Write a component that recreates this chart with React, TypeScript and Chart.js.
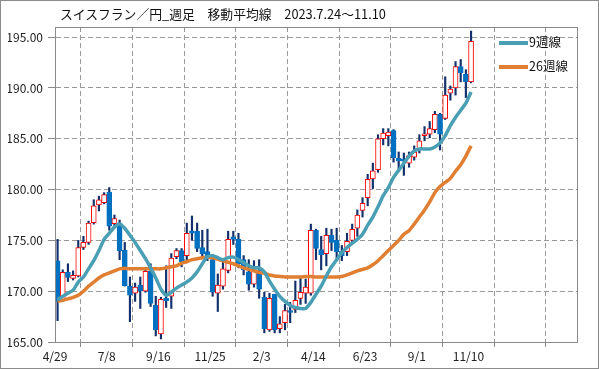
import React, { useEffect, useRef } from 'react';
import { Chart, registerables } from 'chart.js';
Chart.register(...registerables);

const TITLE = 'スイスフラン／円_週足　移動平均線　2023.7.24〜11.10';
const LEGEND_9 = '9週線';
const LEGEND_26 = '26週線';

const xTickLabels = ['4/29', '7/8', '9/16', '11/25', '2/3', '4/14', '6/23', '9/1', '11/10', '', ''];
const xTickValues = [0, 10, 20, 30, 40, 50, 60, 70, 80, 90, 100];
const yTickValues = [165, 170, 175, 180, 185, 190, 195];

const opens = [173.0,169.15,171.85,171.25,171.5,174.3,174.8,176.75,178.5,178.7,
179.75,176.65,176.7,174.05,170.5,169.8,170.6,170.0,171.95,168.6,
165.8,169.3,169.5,173.4,174.0,173.5,175.95,175.9,174.3,173.9,
173.1,169.8,170.5,172.05,175.35,175.1,173.1,171.9,170.7,172.1,
169.4,166.2,169.7,166.3,166.9,168.1,168.2,169.3,169.8,169.8,
176.0,174.1,173.7,175.5,175.0,173.9,173.9,175.0,176.2,177.95,
179.2,181.05,181.95,185.0,185.3,185.8,183.1,182.9,182.6,183.2,
184.0,185.3,185.45,185.9,187.4,187.0,189.5,190.0,192.1,191.35,
190.6];

const highs = [175.1,172.1,172.7,172.0,175.0,175.4,176.9,179.0,179.35,179.7,
180.2,177.5,177.0,174.8,171.4,170.8,171.4,172.1,172.7,169.5,
169.4,172.5,173.7,174.2,174.2,176.7,177.4,176.7,176.0,176.1,
173.6,171.7,172.9,175.9,175.9,175.7,173.5,173.1,173.0,173.1,
169.9,169.8,169.7,167.5,168.7,168.9,171.0,171.3,171.2,176.6,
176.1,175.4,176.2,176.1,176.2,174.5,175.7,176.6,178.0,179.2,
181.5,182.6,185.4,186.0,186.0,185.9,183.7,183.6,183.7,184.3,
185.4,186.2,186.7,187.7,187.5,191.1,190.2,192.6,192.8,191.8,
195.6];

const lows = [167.1,169.0,170.95,171.1,171.4,174.1,174.6,176.6,177.9,178.6,
176.0,176.3,173.1,170.5,167.0,169.0,168.3,169.9,168.5,165.6,
165.3,168.4,168.3,173.2,172.4,172.9,175.0,173.9,173.3,173.0,
169.5,168.0,170.2,171.8,174.6,172.3,171.6,170.1,170.4,169.3,
165.9,166.05,165.9,165.9,166.2,166.9,167.9,168.7,168.8,169.6,
173.1,172.1,172.5,174.0,173.2,173.0,173.5,174.7,175.4,177.3,
178.4,180.1,181.7,184.4,184.3,182.7,181.8,181.4,182.2,182.9,
183.6,184.8,185.1,185.6,183.9,186.9,188.8,189.3,190.6,189.05,
190.5];

const closes = [169.0,171.85,171.35,171.55,174.3,174.8,176.7,178.4,179.0,179.5,
176.4,177.15,174.0,170.55,169.6,170.4,170.05,171.95,168.8,166.2,
169.2,169.05,173.25,174.0,172.9,175.7,175.7,174.2,173.7,173.2,
169.9,170.6,172.2,175.1,175.1,172.7,172.1,170.7,172.1,170.2,
166.3,169.3,166.2,166.8,168.1,167.9,169.1,169.9,170.4,176.0,
174.2,173.6,175.5,174.8,173.9,173.5,174.9,176.1,177.5,178.65,
181.0,181.85,185.0,185.55,185.65,183.15,182.85,182.8,183.35,183.7,
184.8,185.4,186.0,187.4,185.45,189.3,189.9,192.1,191.5,190.6,
194.6];

const ma9 = [169.15,169.5,169.8,170.1,170.9,171.4,172.2,173.0,174.0,175.1,
175.7,176.3,176.6,176.2,175.5,174.8,174.0,173.2,172.3,171.3,
170.2,169.6,169.9,170.3,170.6,170.9,171.3,171.9,172.7,173.4,
173.5,173.3,173.1,173.3,173.35,173.1,172.8,172.5,172.3,172.3,
171.9,171.0,170.2,169.5,169.0,168.6,168.4,168.3,168.3,168.9,
169.7,170.5,171.5,172.4,173.1,173.8,174.3,174.7,175.1,175.6,
176.5,177.3,178.3,179.4,180.2,181.2,181.9,182.6,183.3,183.8,
184.0,184.0,184.0,184.2,184.6,185.3,186.3,187.1,187.8,188.5,
189.6];

const ma26 = [169.0,169.1,169.25,169.4,169.6,170.0,170.5,170.9,171.3,171.6,
171.8,172.0,172.2,172.25,172.2,172.2,172.2,172.2,172.2,172.2,
172.2,172.3,172.4,172.5,172.75,172.9,173.1,173.2,173.3,173.35,
173.3,173.15,173.0,172.85,172.7,172.5,172.3,172.15,172.0,171.85,
171.75,171.6,171.5,171.45,171.4,171.4,171.4,171.4,171.45,171.45,
171.4,171.4,171.4,171.4,171.4,171.45,171.6,171.8,172.0,172.15,
172.3,172.6,173.0,173.5,174.0,174.5,175.0,175.6,175.95,176.6,
177.3,178.0,178.8,179.7,180.3,180.7,181.1,181.8,182.45,183.3,
184.3];

const TEAL = '#4A9FB4';
const ORANGE = '#E07E32';
const UP_BORDER = '#FF0000';
const DOWN_FILL = '#0070C0';
const WICK = '#12306B';
const GRID = '#9a9a9a';
const AXIS = '#8a8a8a';
const FONT = '"Noto Sans CJK JP", "Noto Sans", sans-serif';

const framePlugin = {
  id: 'frame',
  afterDraw(chart: any) {
    const { ctx, chartArea: a } = chart;
    ctx.save();
    ctx.strokeStyle = AXIS;
    ctx.lineWidth = 1;
    ctx.strokeRect(Math.round(a.left) + 0.5, Math.round(a.top) + 0.5, Math.round(a.right - a.left), Math.round(a.bottom - a.top));
    ctx.restore();
  },
};

export default function App() {
  const ref = useRef<HTMLCanvasElement>(null);
  useEffect(() => {
    document.body.style.margin = '0';
    const pos = closes.map((_, i) => i + 0.5);
    const up = closes.map((c, i) => c >= opens[i]);
    const chart = new Chart(ref.current as HTMLCanvasElement, {
      type: 'line',
      data: {
        datasets: [
          {
            type: 'line', label: LEGEND_9,
            data: ma9.map((v, i) => ({ x: pos[i], y: v })),
            borderColor: TEAL, borderWidth: 3.5, pointRadius: 0, tension: 0.2, order: 0,
          },
          {
            type: 'line', label: LEGEND_26,
            data: ma26.map((v, i) => ({ x: pos[i], y: v })),
            borderColor: ORANGE, borderWidth: 3.5, pointRadius: 0, tension: 0.2, order: 1,
          },
          {
            type: 'bar', label: 'body',
            data: opens.map((o, i) => ({ x: pos[i], y: [o, closes[i]] })),
            backgroundColor: up.map((u) => (u ? '#FFFFFF' : DOWN_FILL)),
            borderColor: up.map((u) => (u ? UP_BORDER : DOWN_FILL)),
            borderWidth: 1, borderSkipped: false, barThickness: 5, minBarLength: 2,
            grouped: false, order: 2,
          },
          {
            type: 'bar', label: 'wick',
            data: lows.map((l, i) => ({ x: pos[i], y: [l, highs[i]] })),
            backgroundColor: WICK, barThickness: 1.5, grouped: false, order: 3,
          },
        ] as any,
      },
      options: {
        animation: false,
        responsive: false,
        maintainAspectRatio: false,
        events: [],
        layout: { padding: { left: 8, right: 22, top: 27, bottom: 0 } },
        plugins: { legend: { display: false }, tooltip: { enabled: false }, title: { display: false } },
        scales: {
          x: {
            type: 'linear', min: 0, max: 101, offset: false,
            afterBuildTicks: (s: any) => { s.ticks = xTickValues.map((v) => ({ value: v })); },
            afterFit: (s: any) => { s.height = 27; },
            ticks: {
              autoSkip: false, maxRotation: 0, padding: 2, color: '#222',
              font: { size: 12, family: FONT },
              callback: (v: any) => xTickLabels[Math.round(Number(v) / 10)] ?? '',
            },
            grid: { color: GRID, lineWidth: 1, tickLength: 5, tickColor: AXIS, tickBorderDash: [] },
            border: { display: true, color: AXIS, width: 1, dash: [5, 3] },
          },
          y: {
            type: 'linear', min: 165, max: 196,
            afterBuildTicks: (s: any) => { s.ticks = yTickValues.map((v) => ({ value: v })); },
            afterFit: (s: any) => { s.width = 47; },
            ticks: {
              padding: 5, color: '#222', font: { size: 12, family: FONT },
              callback: (v: any) => Number(v).toFixed(2),
            },
            grid: { color: GRID, lineWidth: 1, tickLength: 7, tickColor: AXIS, tickBorderDash: [] },
            border: { display: true, color: AXIS, width: 1, dash: [5, 3] },
          },
        },
      } as any,
      plugins: [framePlugin],
    });
    return () => chart.destroy();
  }, []);

  const textStyle: React.CSSProperties = {
    position: 'absolute', fontFamily: FONT, fontSize: '12.5px', lineHeight: '16px', color: '#111', whiteSpace: 'nowrap',
  };

  return (
    <div style={{ position: 'relative', width: 599, height: 369, background: '#fff', overflow: 'hidden' }}>
      <canvas ref={ref} width={599} height={369} style={{ position: 'absolute', left: 0, top: 0, width: 599, height: 369 }} />
      <div style={{ ...textStyle, left: 60, top: 6, fontSize: '12.8px' }}>{TITLE}</div>
      <div style={{ position: 'absolute', left: 499, top: 41, width: 29, height: 4, background: TEAL }} />
      <div style={{ ...textStyle, left: 529, top: 34 }}>{LEGEND_9}</div>
      <div style={{ position: 'absolute', left: 499, top: 65, width: 29, height: 4, background: ORANGE }} />
      <div style={{ ...textStyle, left: 529, top: 58 }}>{LEGEND_26}</div>
      <div style={{ position: 'absolute', left: 0, top: 0, width: 599, height: 369, boxSizing: 'border-box', border: '1px solid #8c8c8c', pointerEvents: 'none' }} />
    </div>
  );
}
